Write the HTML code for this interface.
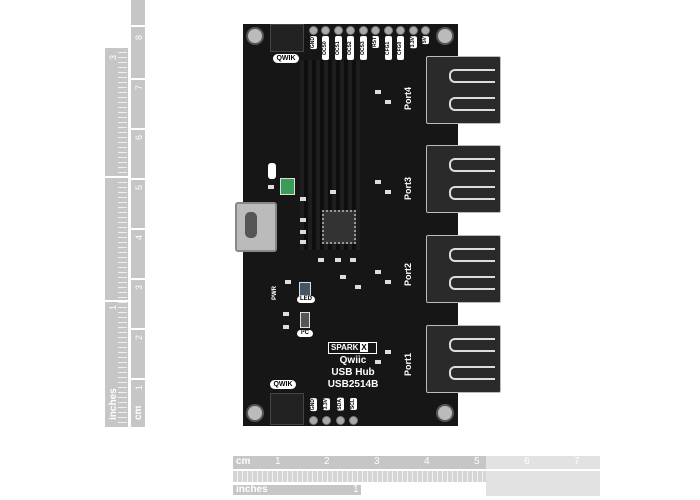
<!DOCTYPE html>
<html><head><meta charset="utf-8"><style>
body{margin:0;width:700px;height:500px;background:#fff;position:relative;overflow:hidden;font-family:"Liberation Sans",sans-serif}
.a{position:absolute}
.g{background:#c6c6c6}
.lg{background:#e2e2e2}
.port{position:absolute;left:426px;width:73px;height:66px;background:#2a2a2a;border:1px solid #bbb;border-radius:2px}
.pin{position:absolute;width:44px;height:10px;left:22px;border-top:2px solid #ddd;border-bottom:2px solid #ddd;border-left:2px solid #ddd;border-radius:6px 0 0 6px}
.lbl{position:absolute;color:#fff;font-weight:bold;font-size:9px;transform:rotate(-90deg);transform-origin:left top}
.hdr{position:absolute;width:7px;height:7px;border-radius:50%;background:#aaa;border:1px solid #777}
.hl{position:absolute;background:#fff;color:#000;font-size:5px;font-weight:bold;writing-mode:vertical-rl;transform:rotate(180deg);width:7px;text-align:center;border-radius:2px;padding:1px 0}
.hole{position:absolute;width:14px;height:14px;border-radius:50%;background:#bbb;border:2px solid #555}
.sm{position:absolute;background:#ddd;width:6px;height:4px}
.vn{position:absolute;color:#fff;font-size:9px;transform:rotate(-90deg);transform-origin:left top}
</style></head><body>
<!-- vertical ruler -->
<div class="a g" style="left:105px;top:48px;width:23px;height:379px"></div>
<div class="a" style="left:118px;top:48px;width:9px;height:379px;background:repeating-linear-gradient(#c6c6c6 0 4px,#eee 4px 5px)"></div>
<div class="a g" style="left:131px;top:0;width:14px;height:427px"></div>
<div class="a" style="left:131px;top:25px;width:14px;height:2px;background:#fff"></div>
<div class="a" style="left:131px;top:78px;width:14px;height:2px;background:#fff"></div>
<div class="a" style="left:131px;top:128px;width:14px;height:2px;background:#fff"></div>
<div class="a" style="left:131px;top:178px;width:14px;height:2px;background:#fff"></div>
<div class="a" style="left:131px;top:228px;width:14px;height:2px;background:#fff"></div>
<div class="a" style="left:131px;top:278px;width:14px;height:2px;background:#fff"></div>
<div class="a" style="left:131px;top:328px;width:14px;height:2px;background:#fff"></div>
<div class="a" style="left:131px;top:378px;width:14px;height:2px;background:#fff"></div>
<div class="a" style="left:105px;top:176px;width:23px;height:2px;background:#fff"></div>
<div class="a" style="left:105px;top:300px;width:23px;height:2px;background:#fff"></div>
<div class="vn" style="left:134px;top:40px">8</div>
<div class="vn" style="left:134px;top:90px">7</div>
<div class="vn" style="left:134px;top:140px">6</div>
<div class="vn" style="left:134px;top:190px">5</div>
<div class="vn" style="left:134px;top:240px">4</div>
<div class="vn" style="left:134px;top:290px">3</div>
<div class="vn" style="left:134px;top:340px">2</div>
<div class="vn" style="left:134px;top:390px">1</div>
<div class="vn" style="left:108px;top:60px">3</div>
<div class="vn" style="left:108px;top:310px">1</div>
<div class="a" style="left:108px;top:420px;color:#fff;font-size:10px;font-weight:bold;transform:rotate(-90deg);transform-origin:left top">inches</div>
<div class="a" style="left:133px;top:420px;color:#fff;font-size:10px;font-weight:bold;transform:rotate(-90deg);transform-origin:left top">cm</div>
<!-- bottom ruler -->
<div class="a g" style="left:233px;top:456px;width:367px;height:13px"></div>
<div class="a lg" style="left:486px;top:456px;width:114px;height:13px"></div>
<div class="a" style="left:233px;top:471px;width:367px;height:11px;background:repeating-linear-gradient(90deg,#d5d5d5 0 4px,#f2f2f2 4px 5px)"></div>
<div class="a g" style="left:233px;top:485px;width:128px;height:10px"></div>
<div class="a lg" style="left:486px;top:471px;width:114px;height:25px"></div>
<div class="a" style="left:236px;top:456px;color:#fff;font-size:10px;font-weight:bold">cm</div>
<div class="a" style="left:236px;top:484px;color:#fff;font-size:10px;font-weight:bold">inches</div>
<div class="a" style="left:275px;top:456px;color:#fff;font-size:10px">1</div>
<div class="a" style="left:324px;top:456px;color:#fff;font-size:10px">2</div>
<div class="a" style="left:374px;top:456px;color:#fff;font-size:10px">3</div>
<div class="a" style="left:424px;top:456px;color:#fff;font-size:10px">4</div>
<div class="a" style="left:474px;top:456px;color:#fff;font-size:10px">5</div>
<div class="a" style="left:524px;top:456px;color:#fff;font-size:10px">6</div>
<div class="a" style="left:574px;top:456px;color:#fff;font-size:10px">7</div>
<div class="a" style="left:353px;top:484px;color:#fff;font-size:10px">1</div>
<!-- board -->
<div class="a" style="left:243px;top:24px;width:215px;height:402px;background:#161616"></div>
<div class="a" style="left:300px;top:60px;width:60px;height:190px;background:repeating-linear-gradient(90deg,#1d1d1d 0 4px,#0e0e0e 4px 8px)"></div>
<div class="hole" style="left:246px;top:27px"></div>
<div class="hole" style="left:436px;top:27px"></div>
<div class="hole" style="left:246px;top:404px"></div>
<div class="hole" style="left:436px;top:404px"></div>
<div class="a" style="left:270px;top:24px;width:32px;height:26px;background:#222;border:1px solid #444"></div>
<div class="a" style="left:273px;top:54px;width:26px;height:9px;background:#fff;border-radius:5px;font-size:7px;font-weight:bold;text-align:center;line-height:9px">QWIK</div>
<div class="a" style="left:270px;top:380px;width:26px;height:9px;background:#fff;border-radius:5px;font-size:7px;font-weight:bold;text-align:center;line-height:9px">QWIK</div>
<div class="a" style="left:270px;top:393px;width:32px;height:30px;background:#222;border:1px solid #444"></div>
<div class="hdr" style="left:309px;top:26px"></div><div class="hl" style="left:310px;top:36px">GND</div>
<div class="hdr" style="left:321px;top:26px"></div><div class="hl" style="left:322px;top:36px;height:22px">OCS0</div>
<div class="hdr" style="left:334px;top:26px"></div><div class="hl" style="left:335px;top:36px;height:22px">OCS1</div>
<div class="hdr" style="left:346px;top:26px"></div><div class="hl" style="left:347px;top:36px;height:22px">OCS2</div>
<div class="hdr" style="left:359px;top:26px"></div><div class="hl" style="left:360px;top:36px;height:22px">OCS3</div>
<div class="hdr" style="left:371px;top:26px"></div><div class="hl" style="left:372px;top:36px">RST</div>
<div class="hdr" style="left:384px;top:26px"></div><div class="hl" style="left:385px;top:36px;height:22px">CFG1</div>
<div class="hdr" style="left:396px;top:26px"></div><div class="hl" style="left:397px;top:36px;height:22px">CFG0</div>
<div class="hdr" style="left:409px;top:26px"></div><div class="hl" style="left:410px;top:36px">3.3V</div>
<div class="hdr" style="left:421px;top:26px"></div><div class="hl" style="left:422px;top:36px">5V</div>
<div class="hl" style="left:310px;top:398px">GND</div><div class="hdr" style="left:309px;top:416px"></div>
<div class="hl" style="left:323px;top:398px">3.3V</div><div class="hdr" style="left:322px;top:416px"></div>
<div class="hl" style="left:337px;top:398px">SDA</div><div class="hdr" style="left:336px;top:416px"></div>
<div class="hl" style="left:350px;top:398px">SCL</div><div class="hdr" style="left:349px;top:416px"></div>
<div class="a" style="left:235px;top:202px;width:38px;height:46px;background:#bbb;border:2px solid #888;border-radius:3px"></div>
<div class="a" style="left:245px;top:212px;width:12px;height:26px;background:#555;border-radius:5px"></div>
<div class="a" style="left:322px;top:210px;width:30px;height:30px;background:#333;border:2px dotted #999"></div>
<div class="a" style="left:280px;top:178px;width:13px;height:15px;background:#3c9a5a;border:1px solid #ddd"></div>
<div class="a" style="left:268px;top:163px;width:8px;height:16px;background:#fff;border-radius:3px"></div>
<div class="sm" style="left:268px;top:185px"></div><div class="sm" style="left:300px;top:197px"></div>
<div class="sm" style="left:300px;top:218px"></div><div class="sm" style="left:300px;top:230px"></div>
<div class="sm" style="left:300px;top:240px"></div><div class="sm" style="left:318px;top:258px"></div>
<div class="sm" style="left:335px;top:258px"></div><div class="sm" style="left:350px;top:258px"></div>
<div class="sm" style="left:330px;top:190px"></div><div class="sm" style="left:340px;top:275px"></div>
<div class="sm" style="left:355px;top:285px"></div><div class="sm" style="left:285px;top:280px"></div>
<div class="sm" style="left:283px;top:312px"></div><div class="sm" style="left:283px;top:325px"></div>
<div class="sm" style="left:375px;top:90px"></div><div class="sm" style="left:385px;top:100px"></div>
<div class="sm" style="left:375px;top:180px"></div><div class="sm" style="left:385px;top:190px"></div>
<div class="sm" style="left:375px;top:270px"></div><div class="sm" style="left:385px;top:280px"></div>
<div class="sm" style="left:375px;top:360px"></div><div class="sm" style="left:385px;top:350px"></div>
<div class="a" style="left:299px;top:282px;width:10px;height:12px;background:#456;border:1px solid #ddd"></div>
<div class="a" style="left:297px;top:296px;width:18px;height:7px;background:#fff;border-radius:4px;font-size:6px;font-weight:bold;text-align:center;line-height:7px">LED</div>
<div class="a" style="left:300px;top:312px;width:8px;height:14px;background:#555;border:1px solid #ddd"></div>
<div class="a" style="left:297px;top:330px;width:16px;height:7px;background:#fff;border-radius:4px;font-size:6px;font-weight:bold;text-align:center;line-height:7px">I²C</div>
<div class="lbl" style="left:272px;top:300px;font-size:6px">PWR</div>
<div class="a" style="left:328px;top:342px;width:45px;height:10px;border:1px solid #fff;color:#fff;font-size:8px;font-weight:bold;line-height:10px;text-align:left;padding-left:2px">SPARK<span style="background:#fff;color:#000;margin-left:2px;padding:0 1px">X</span></div>
<div class="a" style="left:310px;top:355px;width:86px;text-align:center;color:#fff;font-weight:bold;font-size:10px;line-height:12px">Qwiic<br>USB Hub<br>USB2514B</div>
<div class="port" style="top:56px"><div class="pin" style="top:12px"></div><div class="pin" style="top:40px"></div></div>
<div class="port" style="top:145px"><div class="pin" style="top:12px"></div><div class="pin" style="top:40px"></div></div>
<div class="port" style="top:235px"><div class="pin" style="top:12px"></div><div class="pin" style="top:40px"></div></div>
<div class="port" style="top:325px"><div class="pin" style="top:12px"></div><div class="pin" style="top:40px"></div></div>
<div class="lbl" style="left:403px;top:110px">Port4</div>
<div class="lbl" style="left:403px;top:200px">Port3</div>
<div class="lbl" style="left:403px;top:286px">Port2</div>
<div class="lbl" style="left:403px;top:376px">Port1</div>
</body></html>
